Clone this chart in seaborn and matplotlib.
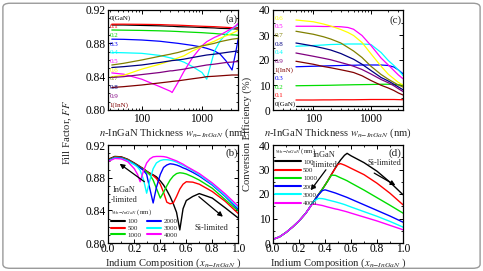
import pandas as pd
import seaborn as sns
import matplotlib.pyplot as plt
from matplotlib.patches import FancyBboxPatch
from matplotlib.ticker import FixedLocator, LogLocator, MultipleLocator, NullFormatter, FormatStrFormatter

# compositions of panels (a) and (c)
comp_names = ['0(GaN)', '0.1', '0.2', '0.3', '0.4', '0.5', '0.6', '0.7', '0.8', '0.9', '1(InN)']
comp_colors = ['#000000', '#ff0000', '#00dd00', '#0000ff', '#00ffff', '#ff00ff',
               '#ffff00', '#808000', '#000080', '#800080', '#800000']
label_order_c = ['0.6', '0.5', '0.7', '0.8', '0.4', '0.9', '1(InN)', '0.3', '0.2', '0.1', '0(GaN)']

# (a) fill factor vs n-InGaN thickness (nm), one row per composition
w_a = [32, 50, 100, 200, 300, 320, 400, 500, 700, 1000, 1200, 1600, 2000, 2500, 3150, 3600, 4000]
ff_w = [
    [0.902, 0.902, 0.9015, 0.901, 0.9005, 0.9005, 0.900, 0.8998, 0.8995, 0.899, 0.8988, 0.8985, 0.898, 0.8978, 0.8975, 0.8973, 0.897],
    [0.903, 0.903, 0.9028, 0.9025, 0.902, 0.902, 0.9018, 0.9015, 0.901, 0.9005, 0.9003, 0.900, 0.8996, 0.8992, 0.8988, 0.8986, 0.8985],
    [0.896, 0.8958, 0.8955, 0.895, 0.8946, 0.8945, 0.8942, 0.8938, 0.8933, 0.8928, 0.8924, 0.8918, 0.8912, 0.8907, 0.8902, 0.890, 0.8898],
    [0.885, 0.8848, 0.884, 0.8825, 0.881, 0.8808, 0.880, 0.879, 0.8775, 0.8755, 0.874, 0.871, 0.867, 0.859, 0.848, 0.868, 0.886],
    [0.869, 0.8687, 0.868, 0.8655, 0.8625, 0.862, 0.860, 0.8575, 0.852, 0.845, 0.837, 0.870, 0.883, 0.891, 0.897, 0.900, 0.903],
    [0.8445, 0.843, 0.837, 0.828, 0.8225, 0.821, 0.833, 0.846, 0.863, 0.877, 0.882, 0.887, 0.890, 0.894, 0.898, 0.901, 0.904],
    [0.840, 0.8415, 0.849, 0.855, 0.859, 0.860, 0.8625, 0.865, 0.871, 0.876, 0.879, 0.8825, 0.886, 0.889, 0.892, 0.894, 0.896],
    [0.854, 0.856, 0.860, 0.8645, 0.867, 0.8675, 0.869, 0.871, 0.874, 0.877, 0.878, 0.880, 0.882, 0.8835, 0.885, 0.8855, 0.886],
    [0.851, 0.852, 0.854, 0.857, 0.859, 0.8593, 0.860, 0.861, 0.863, 0.865, 0.866, 0.867, 0.868, 0.869, 0.870, 0.8705, 0.871],
    [0.839, 0.840, 0.8425, 0.845, 0.847, 0.847, 0.848, 0.849, 0.851, 0.853, 0.854, 0.855, 0.856, 0.857, 0.8575, 0.858, 0.858],
    [0.827, 0.828, 0.830, 0.8325, 0.834, 0.8343, 0.835, 0.836, 0.8375, 0.839, 0.840, 0.8405, 0.841, 0.8415, 0.842, 0.842, 0.842],
]

# (c) conversion efficiency (%) vs thickness
w_c = [50, 100, 150, 200, 300, 400, 500, 700, 1000, 1500, 2000, 2500, 3000, 3600]
eff_w = [
    [1.6, 1.6, 1.6, 1.6, 1.6, 1.6, 1.6, 1.6, 1.6, 1.6, 1.6, 1.6, 1.6, 1.6],
    [4.0, 4.0, 4.05, 4.05, 4.1, 4.1, 4.1, 4.15, 4.2, 4.2, 4.2, 4.2, 4.15, 4.1],
    [9.7, 9.8, 9.85, 9.9, 10.0, 10.05, 10.1, 10.15, 10.2, 10.3, 10.3, 10.2, 10.1, 10.0],
    [17.3, 17.5, 17.6, 17.7, 17.8, 17.9, 17.9, 18.0, 18.0, 18.0, 17.8, 17.2, 16.0, 14.5],
    [25.5, 25.8, 26.0, 26.2, 26.3, 26.4, 26.4, 26.4, 26.2, 23.0, 19.8, 17.8, 16.0, 13.8],
    [33.5, 33.5, 33.4, 33.4, 33.3, 33.0, 32.3, 29.8, 25.8, 20.8, 18.0, 15.8, 14.0, 12.5],
    [36.0, 35.3, 34.4, 33.6, 32.2, 31.0, 29.8, 27.0, 22.5, 17.5, 14.3, 12.5, 11.0, 10.0],
    [31.5, 30.3, 29.3, 28.4, 26.8, 25.0, 23.6, 21.0, 17.5, 14.2, 12.3, 11.0, 10.0, 9.2],
    [26.8, 25.6, 24.7, 24.0, 22.6, 21.3, 20.3, 18.3, 15.8, 13.0, 11.6, 10.3, 9.2, 8.1],
    [22.8, 21.5, 20.7, 20.1, 19.0, 18.2, 17.5, 16.2, 14.4, 12.2, 10.9, 9.7, 8.5, 7.4],
    [19.5, 18.3, 17.4, 16.9, 16.1, 15.5, 15.0, 13.7, 11.8, 9.9, 8.8, 7.8, 6.8, 6.0],
]

# thicknesses of panels (b) and (d)
thick_names = ['100', '500', '1000', '2000', '3000', '4000']
thick_colors = ['#000000', '#ff0000', '#00dd00', '#0000ff', '#00ffff', '#ff00ff']

# (b) fill factor vs indium composition
x_b = [0, 0.05, 0.1, 0.15, 0.2, 0.225, 0.245, 0.27, 0.295, 0.32, 0.345, 0.37, 0.4,
       0.425, 0.45, 0.475, 0.5, 0.525, 0.55, 0.575, 0.6, 0.65, 0.7, 0.8, 0.9, 1.0]
ff_x = [
    [0.9025, 0.906, 0.9055, 0.9025, 0.898, 0.8955, 0.8935, 0.891, 0.888, 0.8855, 0.8835, 0.881, 0.876,
     0.871, 0.8645, 0.857, 0.848, 0.8375, 0.816, 0.842, 0.852, 0.857, 0.8605, 0.855, 0.843, 0.8305],
    [0.902, 0.9055, 0.905, 0.902, 0.8975, 0.895, 0.893, 0.8905, 0.8875, 0.885, 0.8825, 0.879, 0.872,
     0.862, 0.850, 0.848, 0.849, 0.857, 0.866, 0.872, 0.875, 0.8745, 0.872, 0.863, 0.851, 0.836],
    [0.9015, 0.905, 0.9045, 0.9015, 0.897, 0.8945, 0.8925, 0.890, 0.887, 0.8835, 0.877, 0.867, 0.855,
     0.862, 0.870, 0.877, 0.882, 0.885, 0.886, 0.8855, 0.8845, 0.881, 0.877, 0.867, 0.853, 0.839],
    [0.901, 0.9045, 0.904, 0.901, 0.8965, 0.894, 0.892, 0.889, 0.884, 0.866, 0.849, 0.868, 0.884,
     0.8925, 0.8955, 0.897, 0.8965, 0.8955, 0.894, 0.892, 0.8905, 0.8865, 0.882, 0.871, 0.857, 0.841],
    [0.9005, 0.904, 0.9035, 0.9005, 0.896, 0.893, 0.889, 0.878, 0.861, 0.877, 0.891, 0.898, 0.901,
     0.902, 0.902, 0.9015, 0.9005, 0.899, 0.897, 0.895, 0.893, 0.8885, 0.8835, 0.872, 0.858, 0.843],
    [0.900, 0.9035, 0.903, 0.8995, 0.891, 0.884, 0.875, 0.888, 0.898, 0.903, 0.9055, 0.906, 0.906,
     0.9058, 0.905, 0.9035, 0.902, 0.9005, 0.8985, 0.8965, 0.894, 0.8895, 0.885, 0.8735, 0.860, 0.845],
]

# (d) conversion efficiency vs indium composition
x_d = [0, 0.05, 0.1, 0.15, 0.2, 0.25, 0.28, 0.3, 0.32, 0.35, 0.38, 0.4, 0.42, 0.45,
       0.48, 0.5, 0.52, 0.55, 0.57, 0.6, 0.7, 0.8, 0.9, 1.0]
eff_x = [
    [1.5, 2.5, 4.3, 6.5, 9.0, 12.0, 14.3, 16.0, 17.5, 19.8, 22.0, 23.6, 25.3, 28.0,
     30.7, 32.4, 33.9, 35.8, 36.6, 35.6, 32.8, 29.3, 24.8, 19.7],
    [1.5, 2.5, 4.3, 6.5, 9.0, 12.0, 14.3, 16.0, 17.5, 19.8, 22.0, 23.6, 25.3, 28.0,
     30.6, 32.1, 32.4, 31.8, 31.3, 30.5, 27.9, 24.4, 20.3, 15.6],
    [1.5, 2.5, 4.3, 6.5, 9.0, 12.0, 14.3, 16.0, 17.5, 19.8, 22.0, 23.6, 25.2, 27.7,
     27.6, 27.1, 26.6, 25.9, 25.4, 24.5, 21.6, 18.5, 15.4, 12.2],
    [1.5, 2.5, 4.3, 6.5, 9.0, 12.0, 14.3, 16.0, 17.5, 19.7, 21.4, 21.7, 21.4, 20.9,
     20.4, 20.0, 19.6, 19.0, 18.6, 17.9, 15.6, 13.3, 11.0, 8.5],
    [1.5, 2.5, 4.3, 6.5, 9.0, 12.0, 14.3, 16.0, 17.3, 18.2, 18.1, 17.9, 17.6, 17.2,
     16.8, 16.5, 16.2, 15.7, 15.3, 14.7, 12.8, 10.9, 8.8, 6.5],
    [1.5, 2.5, 4.3, 6.5, 9.0, 12.0, 14.3, 15.7, 15.9, 15.6, 15.3, 15.0, 14.7, 14.3,
     13.9, 13.7, 13.4, 13.0, 12.7, 12.2, 10.6, 9.0, 7.2, 5.4],
]

sns.set_theme(style='ticks')
plt.rcParams['font.family'] = ['Liberation Serif', 'DejaVu Serif']
plt.rcParams['mathtext.fontset'] = 'stix'

TICK_FS = 8.3
LABEL_FS = 7.7
SMALL_FS = 5.0


def long_df(xs, rows, names):
    recs = []
    for name, ys in zip(names, rows):
        for x, y in zip(xs, ys):
            recs.append({'x': x, 'y': y, 'series': name})
    return pd.DataFrame(recs)


def style_axes(ax):
    ax.tick_params(which='both', direction='in', top=True, right=True,
                   labelsize=TICK_FS, colors='black', pad=2)
    ax.tick_params(which='major', length=3, width=0.7)
    ax.tick_params(which='minor', length=1.6, width=0.6)
    for s in ax.spines.values():
        s.set_linewidth(0.9)
        s.set_color('black')
    ax.set_ylabel('')


fig = plt.figure(figsize=(4.83, 2.71), dpi=100)
W, H = 483.0, 271.0
ax_a = fig.add_axes([108.3 / W, 1 - 110 / H, 130 / W, 100 / H])
ax_c = fig.add_axes([273 / W, 1 - 110 / H, 130 / W, 100 / H])
ax_b = fig.add_axes([108.3 / W, 1 - 243 / H, 130 / W, 98 / H])
ax_d = fig.add_axes([273 / W, 1 - 243 / H, 130 / W, 98 / H])

pal_comp = dict(zip(comp_names, comp_colors))
pal_thick = dict(zip(thick_names, thick_colors))

# ---- (a)
sns.lineplot(data=long_df(w_a, ff_w, comp_names), x='x', y='y', hue='series',
             hue_order=comp_names, palette=pal_comp, legend=False, ax=ax_a,
             linewidth=0.9, estimator=None)
ax_a.set_xscale('log')
ax_a.set_xlim(28, 4000)
ax_a.set_ylim(0.80, 0.92)
# ---- (c)
sns.lineplot(data=long_df(w_c, eff_w, comp_names), x='x', y='y', hue='series',
             hue_order=comp_names, palette=pal_comp, legend=False, ax=ax_c,
             linewidth=0.9, estimator=None)
ax_c.set_xscale('log')
ax_c.set_xlim(20, 3600)
ax_c.set_ylim(0, 40)

for ax in (ax_a, ax_c):
    ax.xaxis.set_major_locator(FixedLocator([100, 1000]))
    ax.xaxis.set_major_formatter(FormatStrFormatter('%d'))
    ax.xaxis.set_minor_locator(LogLocator(base=10, subs=range(2, 10)))
    ax.xaxis.set_minor_formatter(NullFormatter())
    ax.set_xlabel(r'$n$-InGaN Thickness $w_{n{-}InGaN}$ (nm)', fontsize=LABEL_FS, labelpad=1)

# composition labels
n = len(comp_names)
for i, name in enumerate(comp_names):
    ax_a.text(0.012, 0.917 - i * (0.867 / (n - 1)), name, color=pal_comp[name],
              fontsize=SMALL_FS, transform=ax_a.transAxes, va='center', ha='left')
for i, name in enumerate(label_order_c):
    ax_c.text(0.012, 0.917 - i * (0.86 / (n - 1)), name, color=pal_comp[name],
              fontsize=SMALL_FS, transform=ax_c.transAxes, va='center', ha='left')

# ---- (b)
sns.lineplot(data=long_df(x_b, ff_x, thick_names), x='x', y='y', hue='series',
             hue_order=thick_names, palette=pal_thick, ax=ax_b, linewidth=1.0,
             estimator=None)
ax_b.set_xlim(0, 1)
ax_b.set_ylim(0.80, 0.92)
# ---- (d)
sns.lineplot(data=long_df(x_d, eff_x, thick_names), x='x', y='y', hue='series',
             hue_order=thick_names, palette=pal_thick, ax=ax_d, linewidth=1.0,
             estimator=None)
ax_d.set_xlim(0, 1)
ax_d.set_ylim(0, 40)

for ax in (ax_b, ax_d):
    ax.xaxis.set_major_locator(MultipleLocator(0.2))
    ax.xaxis.set_minor_locator(MultipleLocator(0.1))
    ax.xaxis.set_major_formatter(FormatStrFormatter('%.1f'))
    ax.set_xlabel(r'Indium Composition ($x_{n{-}InGaN}$ )', fontsize=LABEL_FS, labelpad=1)

for ax in (ax_a, ax_b):
    ax.yaxis.set_major_locator(MultipleLocator(0.04))
    ax.yaxis.set_minor_locator(MultipleLocator(0.01))
    ax.yaxis.set_major_formatter(FormatStrFormatter('%.2f'))
for ax in (ax_c, ax_d):
    ax.yaxis.set_major_locator(MultipleLocator(10))
    ax.yaxis.set_minor_locator(MultipleLocator(5))

for ax in (ax_a, ax_b, ax_c, ax_d):
    style_axes(ax)
for ax in (ax_b, ax_d):
    ax.tick_params(axis='x', pad=0.3)

# legends
leg_title = r'$w_{n{-}InGaN}$ (nm)'
lb = ax_b.legend(title=leg_title, ncol=2, loc='upper left', bbox_to_anchor=(-0.01, 0.405),
                 frameon=False, fontsize=SMALL_FS, title_fontsize=SMALL_FS,
                 handlelength=2.0, handletextpad=0.4, columnspacing=0.8,
                 labelspacing=0.15, borderpad=0.1, alignment='left')
for line in lb.get_lines():
    line.set_linewidth(1.5)
ld = ax_d.legend(title=leg_title, loc='upper left', bbox_to_anchor=(-0.02, 1.025),
                 frameon=False, fontsize=SMALL_FS, title_fontsize=SMALL_FS,
                 handlelength=3.8, handletextpad=0.3, labelspacing=0.35,
                 borderpad=0.1, alignment='left')
for line in ld.get_lines():
    line.set_linewidth(1.5)

# annotations
arrow = dict(arrowstyle='-|>', color='black', lw=0.9, mutation_scale=7)
ax_b.annotate('', xy=(0.07, 0.899), xytext=(0.295, 0.873), arrowprops=arrow)
ax_b.text(0.125, 0.859, 'InGaN\n-limited', fontsize=6, ha='center', va='center', linespacing=1.3)
ax_b.annotate('', xy=(0.898, 0.830), xytext=(0.68, 0.859), arrowprops=arrow)
ax_b.text(0.79, 0.818, 'Si-limited', fontsize=6, ha='center', va='center')

ax_d.annotate('', xy=(0.277, 20.6), xytext=(0.42, 30.8), arrowprops=arrow)
ax_d.text(0.39, 34.0, 'InGaN\n-limited', fontsize=6, ha='center', va='center', linespacing=1.3)
ax_d.annotate('', xy=(0.96, 23.0), xytext=(0.76, 29.1), arrowprops=arrow)
ax_d.text(0.86, 32.5, 'Si-limited', fontsize=6, ha='center', va='center')

for ax, tag, pos in ((ax_a, '(a)', (0.95, 0.91)), (ax_c, '(c)', (0.94, 0.90)),
                     (ax_b, '(b)', (0.95, 0.915)), (ax_d, '(d)', (0.94, 0.92))):
    ax.text(*pos, tag, fontsize=8, ha='center', va='center', transform=ax.transAxes)

# shared y labels
fig.text(68 / W, 1 - 132 / H, r'Fill Factor, $FF$', rotation=90, fontsize=LABEL_FS,
         ha='center', va='center')
fig.text(247 / W, 1 - 134 / H, 'Conversion Efficiency (%)', rotation=90, fontsize=LABEL_FS,
         ha='center', va='center')

# rounded frame around the figure
fig.patches.append(FancyBboxPatch((0.006, 0.01), 0.988, 0.978, transform=fig.transFigure,
                                  boxstyle='round,pad=0,rounding_size=0.015',
                                  fill=False, edgecolor='#9a9a9a', linewidth=1.0))

fig.savefig('out.png', dpi=100)
